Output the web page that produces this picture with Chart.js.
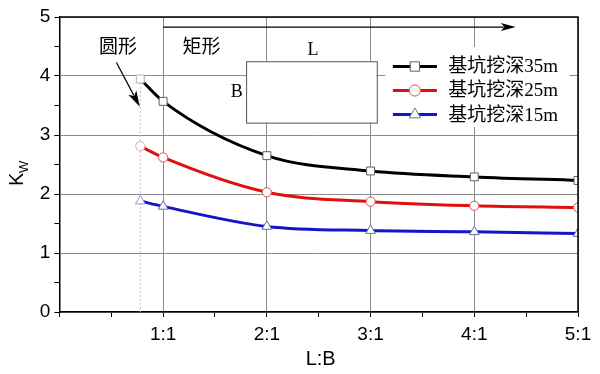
<!DOCTYPE html>
<html>
<head>
<meta charset="utf-8">
<script src="https://cdn.jsdelivr.net/npm/chart.js"></script>
<style>
 html, body { margin: 0; padding: 0; background: #fff; }
 #wrap { width: 600px; height: 374px; }
</style>
</head>
<body>
<div id="wrap"><canvas id="kwChart"></canvas></div>
<script>
// L:B ratio (0.78 = circular pit, drawn at its equivalent ratio)
var lbRatio = [0.78, 1, 2, 3, 4, 5];
var xTickLabels = ["", "1:1", "2:1", "3:1", "4:1", "5:1"];
var yTickLabels = ["0", "1", "2", "3", "4", "5"];

var kw35 = [3.95, 3.57, 2.65, 2.39, 2.29, 2.23];
var kw25 = [2.81, 2.62, 2.03, 1.87, 1.80, 1.77];
var kw15 = [1.88, 1.79, 1.45, 1.38, 1.36, 1.33];

var seriesNames = ["基坑挖深35m", "基坑挖深25m", "基坑挖深15m"];

var lineColors = ["#000000", "#e01010", "#1414c8"];
var markerColors = [
 ["#b0b0b0", "#606060", "#606060", "#606060", "#606060", "#606060"],
 ["#f0a0a0", "#e05050", "#e05050", "#e05050", "#e05050", "#e05050"],
 ["#9898c8", "#6a6aaa", "#6a6aaa", "#6a6aaa", "#6a6aaa", "#6a6aaa"]
];
var markerStyles = ["rect", "circle", "triangle"];
var markerSizes = [5.6, 4.6, 5.6];

function toPoints(vals) {
 return vals.map(function (v, i) {
  return { x: lbRatio[i], y: v };
 });
}

var serifFont = '"Liberation Serif", "Noto Sans CJK SC", serif';
var sansFont = '"Liberation Sans", Arial, sans-serif';

function drawMarker(ctx, style, x, y, r, stroke) {
 ctx.save();
 ctx.fillStyle = "#fff";
 ctx.strokeStyle = stroke;
 ctx.lineWidth = 1;
 ctx.beginPath();
 if (style === "rect") {
  var s = r / Math.SQRT2;
  ctx.rect(x - s, y - s, s * 2, s * 2);
 } else if (style === "circle") {
  ctx.arc(x, y, r, 0, Math.PI * 2);
 } else {
  ctx.moveTo(x, y - r);
  ctx.lineTo(x + r * 0.866, y + r * 0.5);
  ctx.lineTo(x - r * 0.866, y + r * 0.5);
  ctx.closePath();
 }
 ctx.fill();
 ctx.stroke();
 ctx.restore();
}

function arrow(ctx, x1, y1, x2, y2, headLen, headW) {
 var a = Math.atan2(y2 - y1, x2 - x1);
 ctx.beginPath();
 ctx.moveTo(x1, y1);
 ctx.lineTo(x2 - Math.cos(a) * headLen * 0.8, y2 - Math.sin(a) * headLen * 0.8);
 ctx.stroke();
 ctx.beginPath();
 ctx.moveTo(x2, y2);
 ctx.lineTo(x2 - Math.cos(a) * headLen - Math.sin(a) * headW, y2 - Math.sin(a) * headLen + Math.cos(a) * headW);
 ctx.lineTo(x2 - Math.cos(a) * headLen * 0.75, y2 - Math.sin(a) * headLen * 0.75);
 ctx.lineTo(x2 - Math.cos(a) * headLen + Math.sin(a) * headW, y2 - Math.sin(a) * headLen - Math.cos(a) * headW);
 ctx.closePath();
 ctx.fill();
}

// annotations, legend and frame
var decorPlugin = {
 id: "decor",
 beforeDatasetsDraw: function (chart) {
  var ctx = chart.ctx;
  var xs = chart.scales.x, ys = chart.scales.y;
  var px = function (v) { return xs.getPixelForValue(v); };
  var py = function (v) { return ys.getPixelForValue(v); };
  ctx.save();

  // dotted line at the circular case
  ctx.strokeStyle = "#c0c0c0";
  ctx.lineWidth = 1;
  ctx.setLineDash([2, 2]);
  ctx.beginPath();
  ctx.moveTo(px(lbRatio[0]), py(kw35[0]));
  ctx.lineTo(px(lbRatio[0]), py(0));
  ctx.stroke();
  ctx.setLineDash([]);

  // rectangle sketch
  ctx.fillStyle = "#fff";
  ctx.strokeStyle = "#555";
  ctx.fillRect(px(1.8), py(4.25), px(3.06) - px(1.8), py(3.21) - py(4.25));
  ctx.strokeRect(px(1.8) + 0.5, py(4.25) + 0.5, px(3.06) - px(1.8), py(3.21) - py(4.25));

  // legend background
  ctx.fillStyle = "#fff";
  ctx.fillRect(px(3.14), py(4.49), px(4.92) - px(3.14), py(3.14) - py(4.49));

  ctx.fillStyle = "#000";
  ctx.textAlign = "center";
  ctx.textBaseline = "middle";
  ctx.font = '19px ' + serifFont;
  ctx.fillText("圆形", px(0.565), py(4.47));
  ctx.fillText("矩形", px(1.37), py(4.47));
  ctx.font = '18px ' + serifFont;
  ctx.fillText("L", px(2.445), py(4.44));
  ctx.fillText("B", px(1.71), py(3.73));

  // arrows
  ctx.strokeStyle = "#000";
  ctx.fillStyle = "#000";
  ctx.lineWidth = 1.2;
  arrow(ctx, px(1), py(4.83), px(4.4), py(4.83), 15, 4);
  arrow(ctx, px(0.55), py(4.23), px(0.775), py(3.48), 16, 4.5);

  // legend entries
  var rows = [4.161, 3.754, 3.347];
  ctx.textAlign = "left";
  ctx.font = '19px ' + serifFont;
  for (var i = 0; i < rows.length; i++) {
   var yy = py(rows[i]);
   ctx.strokeStyle = lineColors[i];
   ctx.lineWidth = 3;
   ctx.beginPath();
   ctx.moveTo(px(3.215), yy);
   ctx.lineTo(px(3.64), yy);
   ctx.stroke();
   drawMarker(ctx, markerStyles[i], (px(3.215) + px(3.64)) / 2, yy, markerSizes[i] + 1, markerColors[i][1]);
   ctx.fillStyle = "#000";
   ctx.fillText(seriesNames[i], px(3.75), yy + 1);
  }
  ctx.restore();
 },
 afterDraw: function (chart) {
  var ctx = chart.ctx;
  var a = chart.chartArea;
  ctx.save();
  ctx.strokeStyle = "#000";
  ctx.lineWidth = 1.5;
  ctx.beginPath();
  ctx.moveTo(a.left, a.top);
  ctx.lineTo(a.right, a.top);
  ctx.lineTo(a.right, a.bottom);
  ctx.stroke();

  // axis titles
  ctx.fillStyle = "#000";
  ctx.font = '20px ' + sansFont;
  ctx.textAlign = "center";
  ctx.textBaseline = "middle";
  ctx.fillText("L:B", (a.left + a.right) / 2 + 2, 359);

  ctx.translate(16, 178);
  ctx.rotate(-Math.PI / 2);
  ctx.textAlign = "left";
  ctx.textBaseline = "alphabetic";
  ctx.font = '20px ' + sansFont;
  ctx.fillText("K", -8, 7);
  ctx.font = '13px ' + sansFont;
  ctx.fillText("W", 5, 12);
  ctx.restore();
 }
};

function makeDataset(i, vals) {
 return {
  label: seriesNames[i],
  data: toPoints(vals),
  borderColor: lineColors[i],
  borderWidth: 3,
  cubicInterpolationMode: "monotone",
  pointStyle: markerStyles[i],
  pointRadius: markerSizes[i],
  pointBackgroundColor: "#fff",
  pointBorderColor: markerColors[i],
  pointBorderWidth: 1,
  fill: false
 };
}

var gridColor = function (ctx) {
 return Number.isInteger(ctx.tick.value) ? "#8a8a8a" : "rgba(0,0,0,0)";
};

new Chart(document.getElementById("kwChart"), {
 type: "line",
 data: {
  datasets: [makeDataset(0, kw35), makeDataset(1, kw25), makeDataset(2, kw15)]
 },
 options: {
  responsive: true,
  maintainAspectRatio: false,
  animation: false,
  layout: { padding: { top: 17, right: 22, left: 0, bottom: 0 } },
  plugins: {
   legend: { display: false },
   tooltip: { enabled: false }
  },
  scales: {
   x: {
    type: "linear",
    min: 0,
    max: 5,
    afterFit: function (s) { s.height = 62; },
    grid: { color: gridColor, tickColor: "#000", tickLength: 5, lineWidth: 1 },
    border: { color: "#000", width: 1.5 },
    ticks: {
     stepSize: 0.5,
     autoSkip: false,
     maxRotation: 0,
     padding: 6,
     color: "#000",
     font: { family: sansFont, size: 19 },
     callback: function (v) {
      return Number.isInteger(v) ? xTickLabels[v] : "";
     }
    }
   },
   y: {
    min: 0,
    max: 5,
    afterFit: function (s) { s.width = 59.4; },
    grid: { color: gridColor, tickColor: "#000", tickLength: 5, lineWidth: 1 },
    border: { color: "#000", width: 1.5 },
    ticks: {
     stepSize: 0.5,
     autoSkip: false,
     padding: 4,
     color: "#000",
     font: { family: sansFont, size: 19 },
     callback: function (v) {
      return Number.isInteger(v) ? yTickLabels[v] : "";
     }
    }
   }
  }
 },
 plugins: [decorPlugin]
});
</script>
</body>
</html>
